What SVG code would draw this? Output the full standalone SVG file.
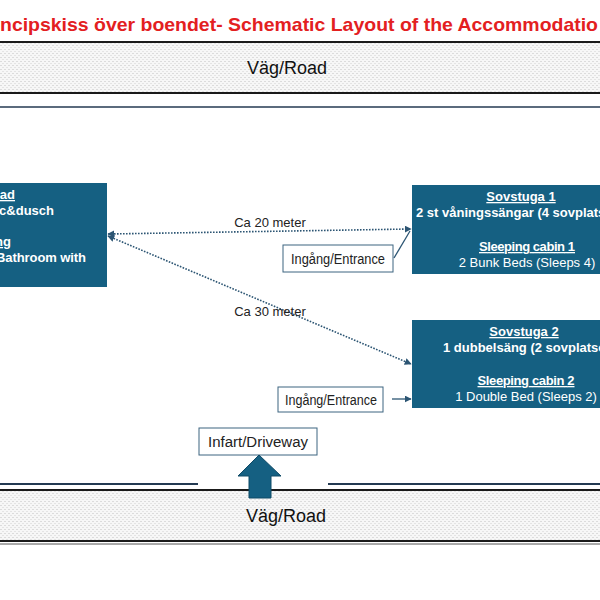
<svg xmlns="http://www.w3.org/2000/svg" width="600" height="600" viewBox="0 0 600 600">
<style>
.title{font-family:"Liberation Sans",Arial,sans-serif;font-weight:bold;font-size:19px;fill:#e3201f}
.road{font-family:"Liberation Sans",Arial,sans-serif;font-size:18px;fill:#111}
.box{fill:#156082}
.bw{font-family:"Liberation Sans",Arial,sans-serif;font-size:13px;font-weight:bold;fill:#fff}
.rw{font-family:"Liberation Sans",Arial,sans-serif;font-size:13px;fill:#fff}
.u{text-decoration:underline}
.lbl{font-family:"Liberation Sans",Arial,sans-serif;font-size:14px;fill:#222}
.dist{font-family:"Liberation Sans",Arial,sans-serif;font-size:13px;fill:#222}
.lbox{fill:#fff;stroke:#3d6580;stroke-width:1}
.dot{fill:none;stroke:#2c5573;stroke-width:1.6;stroke-dasharray:1.6 1.4}
.solid{fill:none;stroke:#2c5573;stroke-width:1.3}
</style>
<defs>
<pattern id="dots" width="4" height="4" patternUnits="userSpaceOnUse">
<rect width="4" height="4" fill="#f7f7f7"/>
<rect x="0" y="1" width="2" height="1" fill="#dcdcdc"/>
<rect x="2" y="3" width="2" height="1" fill="#e4e4e4"/>
</pattern>
<marker id="ah" viewBox="0 0 10 10" refX="9" refY="5" markerWidth="7" markerHeight="7" markerUnits="userSpaceOnUse" orient="auto-start-reverse">
<path d="M0,0 L10,5 L0,10 z" fill="#2c5573"/>
</marker>
</defs>
<rect width="600" height="600" fill="#fff"/>

<g id="title">
<text class="title" x="0" y="31" textLength="598" lengthAdjust="spacingAndGlyphs">ncipskiss över boendet- Schematic Layout of the Accommodatio</text>
</g>

<g id="road-top">
<rect x="0" y="42" width="600" height="51" fill="url(#dots)"/>
<line x1="0" y1="42" x2="600" y2="42" stroke="#1a1a1a" stroke-width="2"/>
<line x1="0" y1="93" x2="600" y2="93" stroke="#1a1a1a" stroke-width="2"/>
<line x1="0" y1="107" x2="600" y2="107" stroke="#243a52" stroke-width="1.5"/>
<text class="road" x="287" y="74" text-anchor="middle">Väg/Road</text>
</g>

<g id="road-bottom">
<rect x="0" y="490" width="600" height="51" fill="url(#dots)"/>
<line x1="0" y1="484" x2="198" y2="484" stroke="#243a52" stroke-width="2"/>
<line x1="328" y1="484" x2="600" y2="484" stroke="#243a52" stroke-width="2"/>
<line x1="0" y1="490" x2="600" y2="490" stroke="#1a1a1a" stroke-width="2"/>
<line x1="0" y1="541" x2="600" y2="541" stroke="#1a1a1a" stroke-width="2"/>
<line x1="0" y1="544" x2="600" y2="544" stroke="#555" stroke-width="1"/>
<text class="road" x="286" y="522" text-anchor="middle">Väg/Road</text>
</g>

<g id="bathroom">
<rect class="box" x="-10" y="183" width="117" height="104"/>
<text class="bw u" x="15" y="199" text-anchor="end">ad</text>
<text class="bw" x="54" y="215" text-anchor="end">c&amp;dusch</text>
<text class="bw u" x="11" y="246" text-anchor="end">ng</text>
<text class="bw" x="86" y="262" text-anchor="end" textLength="90">Bathroom with</text>
</g>

<g id="cabin1">
<rect class="box" x="412" y="185" width="230" height="89"/>
<text class="bw u" x="521" y="201" text-anchor="middle">Sovstuga 1</text>
<text class="bw" x="416" y="217">2 st våningssängar (4 sovplatser)</text>
<text class="bw u" x="527" y="251" text-anchor="middle" textLength="96">Sleeping cabin 1</text>
<text class="rw" x="527" y="267" text-anchor="middle">2 Bunk Beds (Sleeps 4)</text>
</g>

<g id="cabin2">
<rect class="box" x="412" y="320" width="230" height="88"/>
<text class="bw u" x="524" y="336" text-anchor="middle">Sovstuga 2</text>
<text class="bw" x="443" y="352">1 dubbelsäng (2 sovplatser)</text>
<text class="bw u" x="526" y="385" text-anchor="middle" textLength="97">Sleeping cabin 2</text>
<text class="rw" x="526" y="401" text-anchor="middle">1 Double Bed (Sleeps 2)</text>
</g>

<g id="entrance1">
<rect class="lbox" x="283" y="245" width="110" height="27"/>
<text class="lbl" x="338" y="264" text-anchor="middle" textLength="94" lengthAdjust="spacingAndGlyphs">Ingång/Entrance</text>
</g>

<g id="entrance2">
<rect class="lbox" x="278" y="387" width="105" height="25"/>
<text class="lbl" x="331" y="405" text-anchor="middle" textLength="92" lengthAdjust="spacingAndGlyphs">Ingång/Entrance</text>
</g>

<g id="driveway">
<rect class="lbox" x="199" y="428" width="118" height="27"/>
<text class="lbl" x="258" y="447" text-anchor="middle" textLength="100" lengthAdjust="spacingAndGlyphs">Infart/Driveway</text>
<polygon points="259,455 281,476 271,476 271,498 249,498 249,476 238,476" fill="#156082" stroke="#0f4a66" stroke-width="1"/>
</g>

<g id="connectors">
<line class="dot" x1="108" y1="234" x2="411" y2="229" marker-start="url(#ah)" marker-end="url(#ah)"/>
<line class="dot" x1="108" y1="236" x2="411" y2="364" marker-start="url(#ah)" marker-end="url(#ah)"/>
<line class="solid" x1="394" y1="258" x2="410" y2="231"/>
<line class="solid" x1="392" y1="399" x2="411" y2="399" marker-end="url(#ah)"/>
<text class="dist" x="270" y="227" text-anchor="middle">Ca 20 meter</text>
<text class="dist" x="270" y="316" text-anchor="middle">Ca 30 meter</text>
</g>
</svg>
